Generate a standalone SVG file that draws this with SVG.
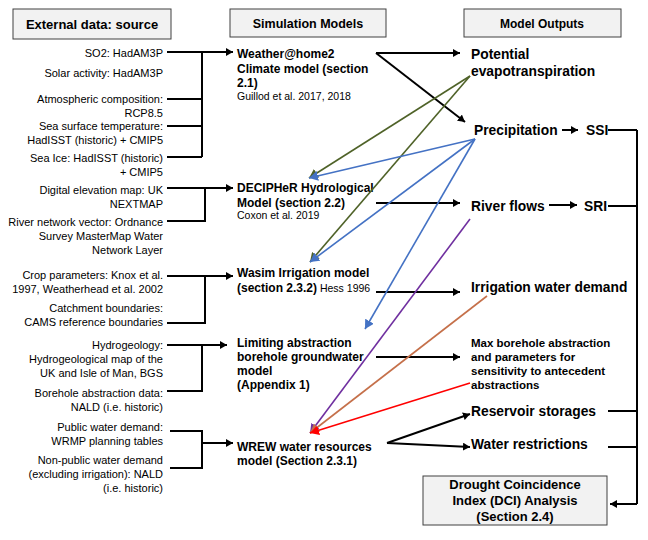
<svg xmlns="http://www.w3.org/2000/svg" width="648" height="540" viewBox="0 0 648 540">
<defs>
<style>
text{font-family:"Liberation Sans",Arial,sans-serif;fill:#000}
.src{font-size:11px;text-anchor:end}
.hd{font-weight:bold;text-anchor:middle}
.mdl{font-size:12px;font-weight:bold}
.ref{font-size:10.5px;font-weight:normal}
.out{font-size:13.8px;font-weight:bold}
.outs{font-size:11.5px;font-weight:bold}
.box{fill:#f2f2f2;stroke:#404040;stroke-width:1}
.br{fill:none;stroke:#000;stroke-width:2}
.ar{fill:none;stroke:#000;stroke-width:2;marker-end:url(#ak)}
.g{fill:none;stroke:#4f6228;stroke-width:1.6;marker-end:url(#ag)}
.b{fill:none;stroke:#4472c4;stroke-width:1.6;marker-end:url(#ab)}
.p{fill:none;stroke:#7030a0;stroke-width:1.6;marker-end:url(#ap)}
.o{fill:none;stroke:#c5704a;stroke-width:1.6;marker-end:url(#ao)}
.r{fill:none;stroke:#ff0000;stroke-width:1.6;marker-end:url(#ar)}
</style>
<marker id="ak" markerUnits="userSpaceOnUse" markerWidth="8" markerHeight="8" refX="7" refY="4" orient="auto"><path d="M0,0 L7,4 L0,8 z" fill="#000"/></marker>
<marker id="ag" markerUnits="userSpaceOnUse" markerWidth="10" markerHeight="10" refX="9" refY="5" orient="auto"><path d="M0,0 L9,5 L0,10 z" fill="#4f6228"/></marker>
<marker id="ab" markerUnits="userSpaceOnUse" markerWidth="10" markerHeight="10" refX="9" refY="5" orient="auto"><path d="M0,0 L9,5 L0,10 z" fill="#4472c4"/></marker>
<marker id="ap" markerUnits="userSpaceOnUse" markerWidth="10" markerHeight="10" refX="9" refY="5" orient="auto"><path d="M0,0 L9,5 L0,10 z" fill="#7030a0"/></marker>
<marker id="ao" markerUnits="userSpaceOnUse" markerWidth="10" markerHeight="10" refX="9" refY="5" orient="auto"><path d="M0,0 L9,5 L0,10 z" fill="#c5704a"/></marker>
<marker id="ar" markerUnits="userSpaceOnUse" markerWidth="10" markerHeight="10" refX="9" refY="5" orient="auto"><path d="M0,0 L9,5 L0,10 z" fill="#ff0000"/></marker>
</defs>
<rect width="648" height="540" fill="#fff"/>

<g id="headers">
<rect class="box" x="13" y="9" width="158" height="30"/>
<text class="hd" x="92" y="29" font-size="13">External data: source</text>
<rect class="box" x="230" y="9" width="156" height="28"/>
<text class="hd" x="308" y="28" font-size="12.5">Simulation Models</text>
<rect class="box" x="464" y="9" width="157" height="28"/>
<text class="hd" x="542" y="28" font-size="12">Model Outputs</text>
</g>

<g id="sources">
<text class="src" x="163" y="57">SO2: HadAM3P</text>
<text class="src" x="163" y="77">Solar activity: HadAM3P</text>
<text class="src" x="163" y="103">Atmospheric composition:</text>
<text class="src" x="163" y="117">RCP8.5</text>
<text class="src" x="163" y="130">Sea surface temperature:</text>
<text class="src" x="163" y="144">HadISST (historic) + CMIP5</text>
<text class="src" x="163" y="162">Sea Ice: HadISST (historic)</text>
<text class="src" x="163" y="176">+ CMIP5</text>
<text class="src" x="163" y="194">Digital elevation map: UK</text>
<text class="src" x="163" y="208">NEXTMAP</text>
<text class="src" x="163" y="226">River network vector: Ordnance</text>
<text class="src" x="163" y="240">Survey MasterMap Water</text>
<text class="src" x="163" y="254">Network Layer</text>
<text class="src" x="163" y="279">Crop parameters: Knox et al.</text>
<text class="src" x="163" y="293">1997, Weatherhead et al. 2002</text>
<text class="src" x="163" y="312">Catchment boundaries:</text>
<text class="src" x="163" y="326">CAMS reference boundaries</text>
<text class="src" x="163" y="349">Hydrogeology:</text>
<text class="src" x="163" y="363">Hydrogeological map of the</text>
<text class="src" x="163" y="377">UK and Isle of Man, BGS</text>
<text class="src" x="163" y="397">Borehole abstraction data:</text>
<text class="src" x="163" y="411">NALD (i.e. historic)</text>
<text class="src" x="163" y="431">Public water demand:</text>
<text class="src" x="163" y="445">WRMP planning tables</text>
<text class="src" x="163" y="464">Non-public water demand</text>
<text class="src" x="163" y="478">(excluding irrigation): NALD</text>
<text class="src" x="163" y="492">(i.e. historic)</text>
</g>

<g id="weather">
<text class="mdl" x="237" y="57.5">Weather@home2</text>
<text class="mdl" x="237" y="72.5">Climate model (section</text>
<text class="mdl" x="237" y="86.5">2.1)</text>
<text class="mdl ref" x="237" y="100">Guillod et al. 2017, 2018</text>
</g>
<g id="decipher">
<text class="mdl" x="237" y="191.5">DECIPHeR Hydrological</text>
<text class="mdl" x="237" y="206.5">Model (section 2.2)</text>
<text class="mdl ref" x="237" y="219">Coxon et al. 2019</text>
</g>
<g id="wasim">
<text class="mdl" x="237" y="276.5">Wasim Irrigation model</text>
<text class="mdl" x="237" y="291.5">(section 2.3.2)<tspan class="ref"> Hess 1996</tspan></text>
</g>
<g id="limiting">
<text class="mdl" x="237" y="346.5">Limiting abstraction</text>
<text class="mdl" x="237" y="360.5">borehole groundwater</text>
<text class="mdl" x="237" y="374.5">model</text>
<text class="mdl" x="237" y="388.5">(Appendix 1)</text>
</g>
<g id="wrew">
<text class="mdl" x="237" y="451">WREW water resources</text>
<text class="mdl" x="237" y="465">model (Section 2.3.1)</text>
</g>

<g id="outputs">
<text class="out" x="471" y="59">Potential</text>
<text class="out" x="471" y="76">evapotranspiration</text>
<text class="out" x="474" y="135">Precipitation</text>
<text class="out" x="586" y="135">SSI</text>
<text class="out" x="471" y="211">River flows</text>
<text class="out" x="584" y="211">SRI</text>
<text class="out" x="471" y="292">Irrigation water demand</text>
<text class="outs" x="471" y="347">Max borehole abstraction</text>
<text class="outs" x="471" y="361">and parameters for</text>
<text class="outs" x="471" y="375">sensitivity to antecedent</text>
<text class="outs" x="471" y="389">abstractions</text>
<text class="out" x="471" y="416">Reservoir storages</text>
<text class="out" x="471" y="449">Water restrictions</text>
</g>
<g id="dci">
<rect class="box" x="423" y="476" width="184" height="49"/>
<text class="hd" x="515" y="489" font-size="13">Drought Coincidence</text>
<text class="hd" x="515" y="505" font-size="13">Index (DCI) Analysis</text>
<text class="hd" x="515" y="521" font-size="13">(Section 2.4)</text>
</g>

<g id="connectors">
<path class="br" d="M167,99 H202 M167,126 H202 M167,157 H202 M202,52 V157"/>
<path class="ar" d="M167,52 H233"/>
<path class="br" d="M167,221 H205 V188"/>
<path class="ar" d="M167,188 H233"/>
<path class="br" d="M167,323 H205 V276"/>
<path class="ar" d="M167,276 H233"/>
<path class="br" d="M167,391 H202 V345"/>
<path class="ar" d="M167,345 H227"/>
<path class="br" d="M170,431 H202 V468 H170"/>
<path class="ar" d="M202,443 H233" stroke-width="3"/>

<path class="ar" d="M376,53 H460"/>
<path class="ar" d="M376,53 L465,122"/>
<path class="ar" d="M376,203 H460"/>
<path class="ar" d="M376,292 H460"/>
<path class="ar" d="M376,357 H460"/>
<path class="ar" d="M387,443 L470,414"/>
<path class="ar" d="M387,443 L470,447"/>
<path class="ar" d="M562,130 H578"/>
<path class="ar" d="M549,205 H577"/>
<path class="br" d="M608,130 H637 M608,206 H637 M608,411 H637 M608,447 H637 M637,130 V504"/>
<path class="ar" d="M637,504 H610"/>

<path class="g" d="M470,76 L309,178"/>
<path class="g" d="M470,76 L310,262"/>
<path class="b" d="M475,139 L309,178"/>
<path class="b" d="M475,139 L310,262"/>
<path class="b" d="M475,139 L365,329"/>
<path class="p" d="M470,219 L310,433"/>
<path class="o" d="M487,296 L310,433"/>
<path class="r" d="M470,383 L310,433"/>
</g>
</svg>
